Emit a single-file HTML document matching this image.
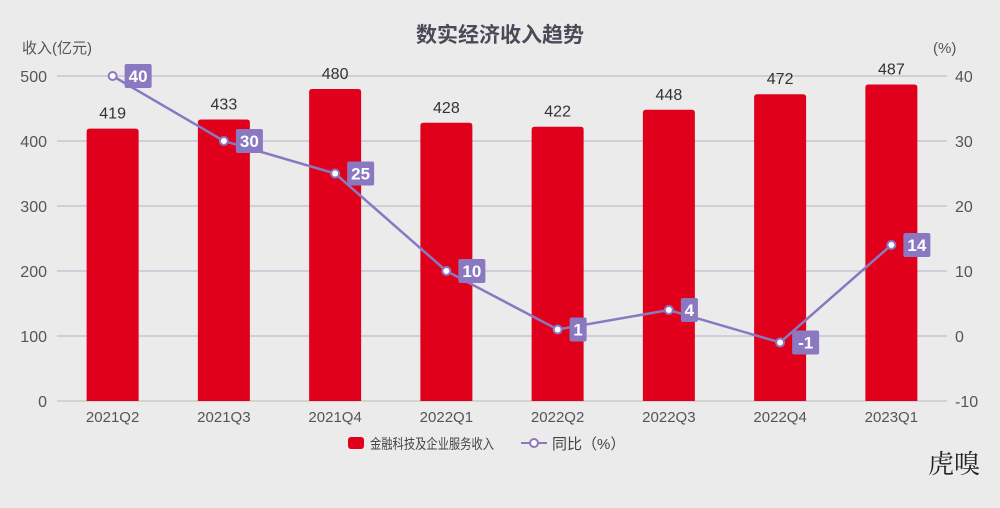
<!DOCTYPE html>
<html><head><meta charset="utf-8"><style>
body{margin:0;width:1000px;height:508px;background:#ebebeb;overflow:hidden}
svg{display:block;font-family:"Liberation Sans","Noto Sans CJK SC",sans-serif}
</style></head><body>
<svg id="c" width="1000" height="508">
<text x="500" y="42" text-anchor="middle" font-size="21" font-weight="bold" fill="#4a4a58">数实经济收入趋势</text>
<text x="22" y="53" font-size="15" fill="#555">收入(亿元)</text>
<text x="933" y="53" font-size="15" fill="#555">(%)</text>
<g id="grid"></g><g id="bars"></g><g id="line"></g><g id="labels"></g>
<g>
<rect x="348" y="437" width="16" height="12" rx="3" fill="#e0001b"/>
<text x="370" y="449" font-size="14" textLength="124" lengthAdjust="spacingAndGlyphs" fill="#444">金融科技及企业服务收入</text>
<line x1="521" y1="443" x2="547" y2="443" stroke="#8a78c0" stroke-width="2"/>
<circle cx="534" cy="443" r="4" fill="#fff" stroke="#8a78c0" stroke-width="2"/>
<text x="552" y="449" font-size="15" fill="#444">同比（%）</text>
</g>
<text x="928" y="473" font-size="26" fill="#222" font-family="'Noto Serif CJK SC',serif">虎嗅</text>
</svg>
<script>
const categories=["2021Q2","2021Q3","2021Q4","2022Q1","2022Q2","2022Q3","2022Q4","2023Q1"];
const revenue=[419,433,480,428,422,448,472,487];
const yoy=[40,30,25,10,1,4,-1,14];
const leftTicks=[0,100,200,300,400,500];
const rightTicks=[-10,0,10,20,30,40];
const NS="http://www.w3.org/2000/svg";
const x0=57,x1=947,yTop=76,yBot=401;
const bw=(x1-x0)/categories.length;
const xC=i=>x0+bw*(i+0.5);
const yL=v=>yBot-(v/500)*(yBot-yTop);
const yR=v=>yBot-((v+10)/50)*(yBot-yTop);
function mk(t,a,p){const e=document.createElementNS(NS,t);for(const k in a)e.setAttribute(k,a[k]);p.appendChild(e);return e;}
const g=document.getElementById('grid'),b=document.getElementById('bars'),l=document.getElementById('line'),lb=document.getElementById('labels');
leftTicks.forEach((v,i)=>{
 const y=yL(v);
 const ln=mk('line',{x1:x0,x2:x1,y1:y,y2:y,stroke:v===0?'#bbb':'#b4b0c4','stroke-width':1},g);
 
 
 const t=mk('text',{x:47,y:y+6,'text-anchor':'end','font-size':16,fill:'#555'},g);t.textContent=v;
 
 
});
rightTicks.forEach(v=>{
 const t=mk('text',{x:955,y:yR(v)+6,'font-size':16,fill:'#555'},g);t.textContent=v;
 
 
});
categories.forEach((c,i)=>{
 const t=mk('text',{x:xC(i),y:422,'text-anchor':'middle','font-size':15,fill:'#555'},g);t.textContent=c;
 
 
 const y=yL(revenue[i]);
 const r=mk('path',{d:`M${xC(i)-26},${yBot} V${y+3} q0,-3 3,-3 H${xC(i)+23} q3,0 3,3 V${yBot} Z`,fill:'#e0001b'},b);
 
 
 const vt=mk('text',{x:xC(i),y:y-10,'text-anchor':'middle','font-size':16,fill:'#333'},lb);vt.textContent=revenue[i];
 
 
});
const pl=mk('polyline',{points:yoy.map((v,i)=>xC(i)+','+yR(v)).join(' '),fill:'none',stroke:'#8a78c0','stroke-width':2.5},l);


yoy.forEach((v,i)=>{
 const cx=xC(i),cy=yR(v);
 const c=mk('circle',{cx,cy,r:4,fill:'#fff',stroke:'#8a78c0','stroke-width':2},l);
 
 
 const s=String(v),w=s.length*10+7;
 const r=mk('rect',{x:cx+12,y:cy-12,width:w,height:24,rx:2,fill:'#8a78c0'},lb);
 
 
 const t=mk('text',{x:cx+12+w/2,y:cy+6,'text-anchor':'middle','font-size':17,'font-weight':'bold',fill:'#fff'},lb);t.textContent=s;
 
 
});
</script>
</body></html>
